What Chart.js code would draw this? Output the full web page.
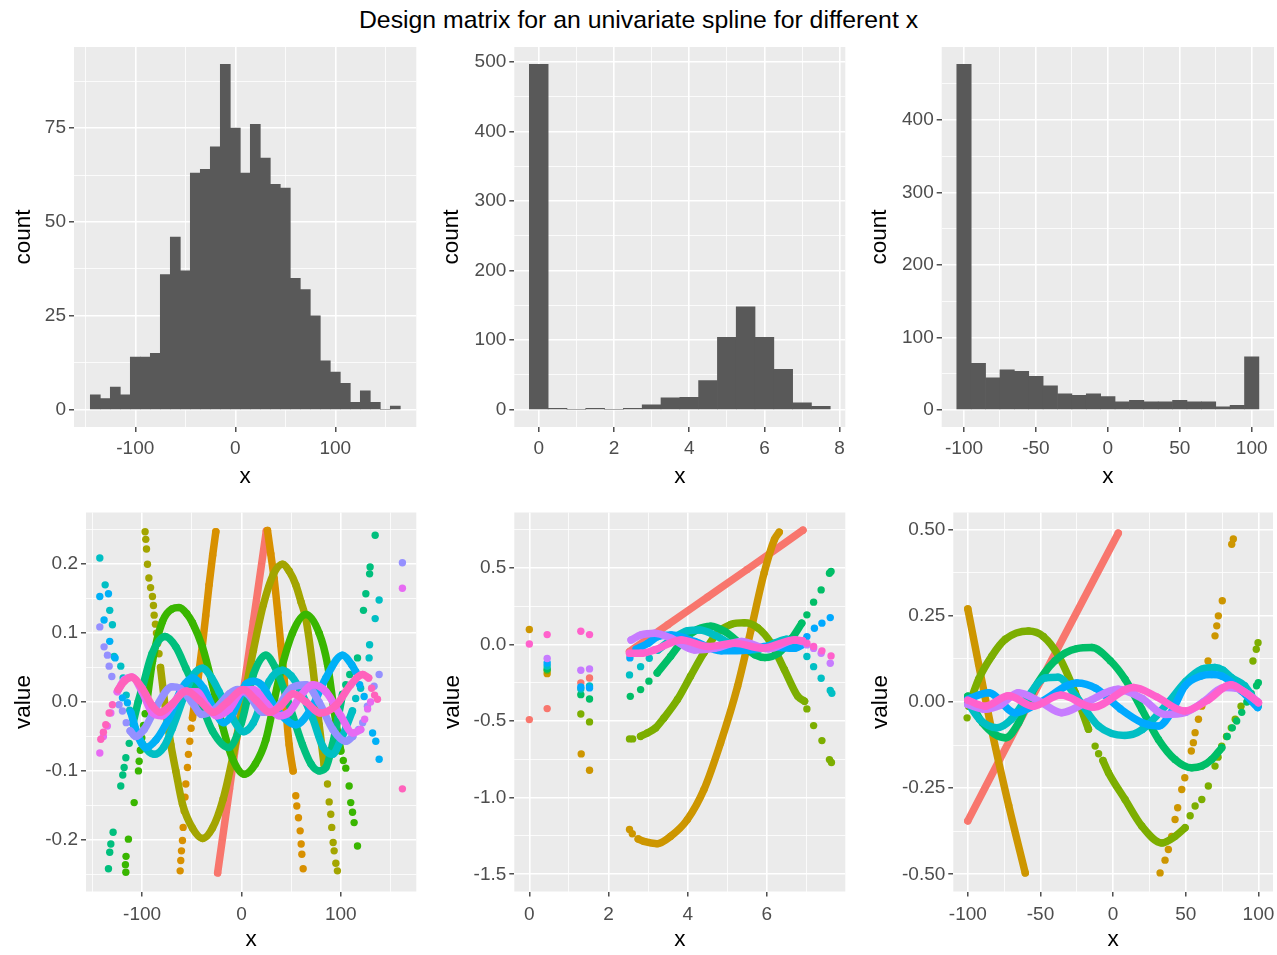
<!DOCTYPE html>
<html>
<head>
<meta charset="utf-8">
<script src="https://cdn.jsdelivr.net/npm/chart.js@4.4.1/dist/chart.umd.min.js"></script>
<style>
  body { margin: 0; background: #fff; width: 1277px; height: 955px; position: relative; overflow: hidden; }
  #title { position: absolute; left: 0; top: 5px; width: 1277px; text-align: center; line-height: 30px;
           font-family: "Liberation Sans", Arial, sans-serif; font-size: 24.8px; color: #000; }
  canvas { position: absolute; }
</style>
</head>
<body>
<div id="title">Design matrix for an univariate spline for different x</div>
<canvas id="c1"></canvas><canvas id="c2"></canvas><canvas id="c3"></canvas>
<canvas id="c4"></canvas><canvas id="c5"></canvas><canvas id="c6"></canvas>
<script>
// ---- histogram data (bin centres / counts) ----
const hist1X = [-140,-130,-120,-110,-100,-90,-80,-70,-60,-50,-40,-30,-20,-10,0,10,20,30,40,50,60,70,80,90,100,110,120,130,140,150,160];
const hist1Count = [4,3,6,4,14,14,15,36,46,37,63,64,70,92,75,63,76,67,60,59,35,32,25,13,10,7,2,5,2,0,1];
const hist2X = [0,0.5,1,1.5,2,2.5,3,3.5,4,4.5,5,5.5,6,6.5,7,7.5];
const hist2Count = [497,2,0,2,0,2,7,17,18,42,104,148,104,58,10,5];
const hist3X = [-100,-90,-80,-70,-60,-50,-40,-30,-20,-10,0,10,20,30,40,50,60,70,80,90,100];
const hist3Count = [477,64,44,55,53,46,33,22,20,22,18,11,13,11,11,13,11,11,4,6,73];

// ---- tick labels ----
const p1XTicks = [-100, 0, 100], p1XLabels = ['-100', '0', '100'], p1XMinor = [-150, -50, 50, 150];
const p1YTicks = [0, 25, 50, 75], p1YLabels = ['0', '25', '50', '75'], p1YMinor = [12.5, 37.5, 62.5, 87.5];
const p2XTicks = [0, 2, 4, 6, 8], p2XLabels = ['0', '2', '4', '6', '8'], p2XMinor = [1, 3, 5, 7];
const p2YTicks = [0, 100, 200, 300, 400, 500], p2YLabels = ['0', '100', '200', '300', '400', '500'], p2YMinor = [50, 150, 250, 350, 450];
const p3XTicks = [-100, -50, 0, 50, 100], p3XLabels = ['-100', '-50', '0', '50', '100'], p3XMinor = [-75, -25, 25, 75];
const p3YTicks = [0, 100, 200, 300, 400], p3YLabels = ['0', '100', '200', '300', '400'], p3YMinor = [50, 150, 250, 350, 450];
const p4XTicks = [-100, 0, 100], p4XLabels = ['-100', '0', '100'], p4XMinor = [-150, -50, 50, 150];
const p4YTicks = [-0.2, -0.1, 0, 0.1, 0.2], p4YLabels = ['-0.2', '-0.1', '0.0', '0.1', '0.2'], p4YMinor = [-0.25, -0.15, -0.05, 0.05, 0.15, 0.25];
const p5XTicks = [0, 2, 4, 6], p5XLabels = ['0', '2', '4', '6'], p5XMinor = [1, 3, 5, 7];
const p5YTicks = [-1.5, -1, -0.5, 0, 0.5], p5YLabels = ['-1.5', '-1.0', '-0.5', '0.0', '0.5'], p5YMinor = [-1.25, -0.75, -0.25, 0.25, 0.75];
const p6XTicks = [-100, -50, 0, 50, 100], p6XLabels = ['-100', '-50', '0', '50', '100'], p6XMinor = [-75, -25, 25, 75];
const p6YTicks = [-0.5, -0.25, 0, 0.25, 0.5], p6YLabels = ['-0.50', '-0.25', '0.00', '0.25', '0.50'], p6YMinor = [-0.375, -0.125, 0.125, 0.375];

// ---- design matrix columns (dots = isolated points, lines = dense runs) ----
const p4Red = { dots: [], lines: [[[-24,-0.248],[-12,-0.126],[0,-0.004],[12,0.117],[25,0.248]]] };
const p4Orange = {
  dots: [[-61.7,-0.245],[-61.1,-0.23],[-60.4,-0.216],[-59.4,-0.201],[-58.7,-0.182],[-57.7,-0.158],[-56.8,-0.138],[-56,-0.119],[-54.4,-0.095],[-53.4,-0.076],[-52,-0.057],[-50.7,-0.038],
         [54.7,-0.136],[55.7,-0.151],[57.4,-0.168],[59.1,-0.187],[60.1,-0.206],[60.8,-0.221],[62.1,-0.242]],
  lines: [[[-49.3,-0.023],[-44,0.03],[-39.3,0.083],[-36,0.125],[-32.6,0.17],[-29,0.213],[-25.8,0.247]],
          [[26.2,0.249],[29.5,0.215],[32.9,0.179],[36.5,0.13],[39.6,0.083],[42.9,0.035],[45,-0.013],[48,-0.062],[52,-0.1]]]
};
const p4Olive = {
  dots: [[-97,0.247],[-96.3,0.236],[-95.6,0.222],[-94.6,0.2],[-93.2,0.18],[-91.5,0.166],[-89.6,0.153],[-88.6,0.14],[-87.9,0.126],[-86.6,0.113],[-85.6,0.1],[-84.4,0.085],[-83,0.07],
         [86.6,-0.119],[88.3,-0.145],[89.9,-0.163],[90.9,-0.182],[92.3,-0.204],[93.3,-0.216],[95,-0.234],[96.6,-0.245]],
  lines: [[[-81.5,0.05],[-76.2,-0.013],[-71.1,-0.062],[-66.1,-0.1],[-59.4,-0.148],[-49.3,-0.183],[-39,-0.198],[-29.2,-0.183],[-18.5,-0.141],[-8,-0.075],[2,0],[12,0.075],[22,0.141],[32,0.185],[41.3,0.2],[48,0.19],[54.7,0.17],[60,0.145],[64.8,0.121],[71.5,0.054],[78.2,-0.033],[83.2,-0.091]]]
};
const p4Green = {
  dots: [[-116.4,-0.247],[-116.8,-0.236],[-116.2,-0.224],[-113.8,-0.199],[-108,-0.146],[-103.7,-0.1],[-103,-0.086],[-101.8,-0.07],[-100.3,-0.052],[-98.6,-0.034],[-97,-0.017],
         [102.5,-0.085],[105,-0.096],[108.4,-0.122],[110,-0.146],[111.8,-0.16],[113.4,-0.175],[116.8,-0.209]],
  lines: [[[-95,0.003],[-89.6,0.059],[-79.5,0.117],[-70,0.135],[-62.8,0.137],[-55,0.128],[-49.3,0.115],[-39.3,0.08],[-29.2,0.025],[-19.1,-0.035],[-9.1,-0.082],[3,-0.105],[14,-0.09],[24.5,-0.055],[37.9,0.035],[51.3,0.1],[64.8,0.127],[78.2,0.1],[86.6,0.055],[93.3,-0.013],[100,-0.071]]]
};
const p4Teal = {
  dots: [[-133.9,-0.242],[-132.6,-0.218],[-131.5,-0.206],[-129.2,-0.189],[-121.5,-0.122],[-119.5,-0.106],[-118.1,-0.095],[-116.4,-0.081],[-113,-0.06],
         [105,0.025],[109,0.04],[116.8,0.064],[122.8,0.133],[125.2,0.157],[129,0.186],[129.5,0.196],[134.6,0.242]],
  lines: [[[-109,-0.03],[-104,0],[-99,0.025],[-90,0.07],[-77,0.095],[-66,0.08],[-56,0.049],[-42.6,0.006],[-29.2,-0.042],[-13,-0.066],[0,-0.03],[12,0.04],[24.5,0.068],[34,0.05],[44.6,0.011],[61.4,-0.062],[70,-0.09],[78.2,-0.1],[85,-0.095],[91.6,-0.062],[97,-0.025],[101.7,0.011]]]
};
const p4Cyan = {
  dots: [[-142.6,0.209],[-137.2,0.17],[-132.6,0.133],[-129.9,0.112],[-128.2,0.066],[-121.5,0.052],[-119.1,0.035],[-116,0.01],[-112.5,-0.012],
         [115,0.005],[120,0.02],[128.5,0.064],[129,0.083],[134.6,0.121],[138.6,0.148]],
  lines: [[[-109.7,-0.03],[-100,-0.06],[-88,-0.076],[-78,-0.065],[-69.5,-0.038],[-56,0.015],[-48,0.04],[-39.3,0.049],[-30,0.035],[-22.5,0.015],[-9.1,-0.023],[2,-0.043],[12,-0.03],[27.9,0.03],[41.3,0.046],[50,0.038],[58,0.02],[71.5,-0.023],[82,-0.065],[91.6,-0.076],[100,-0.055],[105,-0.038],[111.7,-0.013]]]
};
const p4Blue = {
  dots: [[-142.6,0.153],[-138.3,0.119],[-133.9,0.157],[-132.6,0.088],[-127.2,0.064],[-119.8,0.006],[-114.8,-0.001],
         [119,0.025],[123.5,0.008],[132,-0.045],[135.2,-0.057],[138.6,-0.083]],
  lines: [[[-111.4,-0.015],[-104,-0.05],[-96.3,-0.066],[-86,-0.055],[-72.8,-0.023],[-60,0.02],[-49.3,0.035],[-38,0.02],[-28,-0.01],[-18,-0.03],[-8,-0.015],[4,0.025],[12,0.03],[20,0.025],[35,-0.01],[54.7,-0.033],[70,-0.01],[85,0.035],[101.7,0.068],[111,0.054],[115,0.044]]]
};
const p4Purple = {
  dots: [[-142.6,0.109],[-138.3,0.08],[-134.9,0.068],[-133.2,0.052],[-130.5,0.037],[-123.2,-0.004],[-119.8,-0.013],[-116,-0.03],
         [118,-0.04],[122,-0.03],[126.8,-0.006],[133.5,0.023],[138.6,0.04],[162,0.202]],
  lines: [[[-112,-0.042],[-106.4,-0.05],[-98,-0.04],[-85,-0.005],[-70,0.022],[-62,0.02],[-50,0],[-40,-0.018],[-28,-0.012],[-12,0.012],[-4,0.018],[6,0.012],[22,-0.015],[35,-0.01],[50,0.02],[64.8,0.025],[78,0],[92,-0.04],[105,-0.057],[112,-0.05]]]
};
const p4Violet = {
  dots: [[-142.6,-0.074],[-139,-0.05],[-135,-0.035],[-131.5,-0.016],[124,-0.025],[127,-0.01],[130,0],[162,0.165]],
  lines: [[[-125,0.015],[-118,0.032],[-110,0.036],[-100,0.015],[-90,-0.015],[-80,-0.02],[-70,-0.005],[-58,0.015],[-45,0.015],[-35,-0.005],[-25,-0.02],[-12,-0.01],[0,0.015],[12,0.018],[25,-0.002],[38,-0.02],[48,-0.015],[60,0.01],[72,0.025],[85,0.015],[100,-0.02],[112,-0.045],[120,-0.04]]]
};
const p4Pink = {
  dots: [[-141.6,-0.054],[-139,-0.044],[-136.6,-0.033],[-133.2,-0.016],[-129.9,-0.004],[131,0.02],[134,0.01],[136.9,0.004],[162,-0.126]],
  lines: [[[-124,0.018],[-118,0.03],[-110.7,0.036],[-100,0.02],[-90,-0.005],[-82,-0.015],[-70,-0.003],[-55.4,0.016],[-42,0.002],[-28.5,-0.015],[-14,0],[1.7,0.018],[15,0.002],[28.5,-0.015],[40,-0.005],[52,0.012],[65,0],[79,-0.016],[95,-0.005],[110,0.025],[122,0.04],[128,0.035]]]
};

const p5Red = { dots: [[0,-0.49],[0.45,-0.418],[1.3,-0.25],[1.52,-0.218]], lines: [[[2.53,-0.046],[3.5,0.13],[4.5,0.31],[5.5,0.49],[6.91,0.747]]] };
const p5Gold = {
  dots: [[0,0.098],[0.45,-0.19],[1.31,-0.714],[1.52,-0.821],[2.53,-1.208],[2.6,-1.235]],
  lines: [[[2.75,-1.27],[2.89,-1.285],[3.23,-1.3],[3.57,-1.252],[3.99,-1.143],[4.41,-0.947],[4.83,-0.642],[5.26,-0.272],[5.6,0.098],[5.93,0.468],[6.19,0.686],[6.31,0.734]]]
};
const p5Lime = {
  dots: [[0.45,-0.17],[1.3,-0.453],[1.52,-0.505],[2.53,-0.616],[2.61,-0.616],[7.01,-0.42],[7.18,-0.529],[7.39,-0.627],[7.58,-0.751],[7.63,-0.77]],
  lines: [[[2.81,-0.599],[2.98,-0.577],[3.19,-0.544],[3.4,-0.479],[3.74,-0.359],[4.07,-0.207],[4.41,-0.054],[4.75,0.076],[5.09,0.131],[5.43,0.142],[5.77,0.109],[6.1,0.011],[6.44,-0.163],[6.78,-0.338],[6.95,-0.37]]]
};
const p5Green = {
  dots: [[0.45,-0.16],[1.3,-0.327],[1.52,-0.355],[2.55,-0.338],[2.81,-0.294],[3.02,-0.239],[7.01,0.194],[7.18,0.277],[7.37,0.357],[7.58,0.466],[7.62,0.477]],
  lines: [[[3.23,-0.185],[3.57,-0.076],[3.9,0.033],[4.24,0.098],[4.58,0.12],[4.94,0.085],[5.36,-0.002],[5.7,-0.067],[5.95,-0.085],[6.29,-0.057],[6.63,0.041],[6.88,0.139]]]
};
const p5Cyan = {
  dots: [[0.45,-0.14],[1.3,-0.29],[1.52,-0.27],[2.53,-0.198],[2.81,-0.144],[3.03,-0.089],[7.01,-0.078],[7.18,-0.144],[7.37,-0.22],[7.6,-0.3],[7.64,-0.318]],
  lines: [[[3.25,-0.035],[3.58,0.03],[4,0.09],[4.3,0.095],[4.7,0.06],[5.1,0],[5.5,-0.035],[5.8,-0.03],[6.2,0.01],[6.5,0.035],[6.8,0]]]
};
const p5Blue = {
  dots: [[0.45,-0.12],[1.3,-0.277],[1.52,-0.283],[2.54,-0.087],[7.01,0.052],[7.2,0.107],[7.39,0.14],[7.6,0.176]],
  lines: [[[2.7,-0.03],[3,0.009],[3.25,0.052],[3.58,0.063],[4.18,0.02],[4.85,-0.041],[5.53,-0.035],[6.04,-0.01],[6.4,-0.02],[6.71,-0.024],[6.9,0]]]
};
const p5Purple = {
  dots: [[0.45,-0.091],[1.3,-0.168],[1.52,-0.159],[7.01,-0.002],[7.18,-0.025],[7.37,-0.057],[7.6,-0.122]],
  lines: [[[2.57,0.03],[2.82,0.063],[3.16,0.074],[3.58,0.041],[4.18,-0.035],[4.68,-0.024],[5.36,0.02],[6.04,-0.028],[6.71,0.03],[6.9,0.02]]]
};
const p5Pink = {
  dots: [[0,0.004],[0.45,0.065],[1.3,0.087],[1.52,0.065],[7.01,0.009],[7.18,-0.013],[7.39,-0.041],[7.62,-0.074]],
  lines: [[[2.53,-0.057],[2.82,-0.057],[3.16,-0.035],[3.84,0.03],[4.51,-0.013],[5.19,0.009],[5.87,-0.024],[6.71,0.03],[6.9,0.025]]]
};

const p6Red = { dots: [], lines: [[[-100,-0.345],[-50,0.06],[3.5,0.49]]] };
const p6Gold = {
  dots: [[32.3,-0.496],[35.7,-0.459],[38,-0.428],[40.3,-0.39],[42.6,-0.341],[44.4,-0.307],[47.2,-0.254],[49.3,-0.22],[53.8,-0.142],[55.2,-0.118],[56.4,-0.089],[58.7,-0.05],[61,-0.012],
         [65.3,0.119],[70.1,0.192],[71.3,0.221],[72.4,0.25],[75.1,0.294],[81.6,0.458],[82.7,0.473]],
  lines: [[[-100,0.27],[-92.6,0.11],[-83.4,-0.085],[-71.9,-0.3],[-60.5,-0.496]]]
};
const p6Lime = {
  dots: [[-100.5,-0.046],[-12.4,-0.128],[-10,-0.15],[53,-0.33],[56.4,-0.302],[61,-0.283],[65.5,-0.244],[70.1,-0.186],[72.2,-0.16],[74.7,-0.128],[78,-0.1],[81.3,-0.075],[84,-0.05],[88,-0.012],[91,0.03],[96.2,0.119],[98.5,0.153],[99.7,0.172]],
  lines: [[[-99.4,-0.012],[-92.6,0.066],[-83.4,0.134],[-74.2,0.182],[-58.2,0.206],[-48,0.19],[-37.6,0.134],[-26.1,0.027],[-17,-0.079]],
          [[-7,-0.17],[-3.2,-0.205],[8.2,-0.283],[19.7,-0.36],[33.4,-0.409],[42.6,-0.39],[49.5,-0.365]]]
};
const p6Green = {
  dots: [[78.5,-0.1],[82,-0.075],[85,-0.055],[88.5,-0.03],[92,0],[95,0.025],[98.7,0.047],[99.9,0.056]],
  lines: [[[-100,0.017],[-90,-0.06],[-74.2,-0.104],[-65,-0.06],[-55.9,0.027],[-40,0.12],[-25,0.155],[-14.7,0.158],[-2,0.12],[8.2,0.066],[19.7,-0.021],[31.2,-0.109],[42.6,-0.167],[54.1,-0.191],[61,-0.186],[67.8,-0.167],[74.7,-0.133]]]
};
const p6Cyan = {
  dots: [],
  lines: [[[-100,-0.002],[-92,-0.05],[-80,-0.075],[-70,-0.05],[-58,0.02],[-46.7,0.07],[-38,0.072],[-26.1,0.02],[-10,-0.07],[8,-0.097],[20,-0.08],[37.8,-0.002],[50,0.06],[61,0.095],[70,0.1],[75.6,0.092],[81.3,0.071],[90.5,0.047],[99.7,-0.012]]]
};
const p6Blue = {
  dots: [],
  lines: [[[-100,0.008],[-85.7,0.027],[-67.4,-0.031],[-50,0],[-25,0.055],[-12,0.04],[5,-0.02],[20,-0.06],[31.2,-0.07],[40,-0.03],[49.5,0.047],[60,0.075],[67.8,0.08],[75,0.075],[88.4,0.032],[99.4,-0.016]]]
};
const p6Purple = {
  dots: [],
  lines: [[[-100,-0.007],[-88.2,-0.021],[-78,-0.01],[-65.3,0.027],[-50,0],[-35.5,-0.031],[-18,0],[3.4,0.037],[20,0.01],[35.5,-0.036],[50,-0.03],[62,0],[76.7,0.042],[85,0.04],[92,0.025],[99.7,0]]]
};
const p6Pink = {
  dots: [],
  lines: [[[-100,0.005],[-88,-0.012],[-72,0.018],[-55,-0.012],[-36,0.02],[-14,-0.015],[14,0.042],[30,0.015],[49,-0.026],[65,0.005],[81,0.05],[90,0.03],[100,-0.002]]]
};

const pal10 = ['#F8766D', '#D89000', '#A3A500', '#39B600', '#00BF7D', '#00BFC4', '#00B0F6', '#9590FF', '#E76BF3', '#FF62BC'];
const pal8 = ['#F8766D', '#CD9600', '#7CAE00', '#00BE67', '#00BFC4', '#00A9FF', '#C77CFF', '#FF61CC'];

Chart.defaults.font.family = '"Liberation Sans", Arial, sans-serif';
Chart.defaults.animation = false;
Chart.defaults.plugins.legend.display = false;
Chart.defaults.plugins.tooltip.enabled = false;

// grey ggplot panel behind the grid
const panelBg = {
  id: 'panelBg',
  beforeDraw(chart) {
    const { ctx, chartArea: a } = chart;
    ctx.save();
    ctx.fillStyle = '#EBEBEB';
    ctx.fillRect(a.left, a.top, a.right - a.left, a.bottom - a.top);
    ctx.restore();
  }
};

function histData(xs, counts) {
  return [{
    data: xs.map((x, i) => ({ x: x, y: counts[i] })),
    backgroundColor: '#595959', borderWidth: 0,
    barPercentage: 1, categoryPercentage: 1, grouped: false
  }];
}

function seriesPoints(s) {
  const out = [];
  s.dots.forEach(p => { out.push({ x: p[0], y: p[1] }); out.push({ x: p[0], y: null }); });
  s.lines.forEach(run => {
    run.forEach(p => out.push({ x: p[0], y: p[1] }));
    out.push({ x: run[run.length - 1][0], y: null });
  });
  return out;
}

function scatterData(list, pal) {
  return list.map((s, i) => ({
    data: seriesPoints(s),
    order: list.length - i,
    showLine: true, spanGaps: false,
    borderColor: pal[i], backgroundColor: pal[i],
    borderWidth: 7.5, borderCapStyle: 'round', borderJoinStyle: 'round',
    cubicInterpolationMode: 'monotone',
    pointRadius: 3.7, pointBorderWidth: 0, pointBackgroundColor: pal[i]
  }));
}

function axis(which, spec, size, tickPad, title, titlePad) {
  const all = spec.major.concat(spec.minor).sort((a, b) => a - b);
  const isMajor = v => spec.major.indexOf(v) >= 0;
  return {
    type: 'linear', min: spec.min, max: spec.max, offset: false,
    afterBuildTicks: s => { s.ticks = all.map(v => ({ value: v })); },
    afterFit: s => {
      if (which === 'x') { s.height = size; s.paddingLeft = 0; s.paddingRight = 0; }
      else { s.width = size; s.paddingTop = 0; s.paddingBottom = 0; }
    },
    grid: {
      offset: false, color: '#FFFFFF',
      lineWidth: c => isMajor(c.tick.value) ? 1.6 : 0.8,
      drawTicks: true, tickLength: 5, tickWidth: 1.3,
      tickColor: c => isMajor(c.tick.value) ? '#333333' : 'rgba(0,0,0,0)'
    },
    border: { display: false },
    ticks: {
      autoSkip: false, maxRotation: 0, minRotation: 0, padding: tickPad,
      color: '#4D4D4D', font: { size: 19 },
      callback: v => { const i = spec.major.indexOf(v); return i < 0 ? '' : spec.labels[i]; }
    },
    title: { display: true, text: title, color: '#000000', font: { size: 22.5 },
             padding: which === 'x' ? { top: 0, bottom: titlePad } : { top: titlePad, bottom: 0 } }
  };
}

const rowTop = [38, 500], rowBottom = [500, 955];
const colLeft = [0, 430, 860], colRight = [430, 860, 1277];

const panels = [
  { id: 'c1', r: 0, c: 0, plot: [74, 47, 416.3, 427], type: 'bar', yTitle: 'count', yTitlePad: 10.3,
    x: { min: -161.3, max: 181, major: p1XTicks, labels: p1XLabels, minor: p1XMinor },
    y: { min: -4.6, max: 96.6, major: p1YTicks, labels: p1YLabels, minor: p1YMinor },
    datasets: histData(hist1X, hist1Count) },
  { id: 'c2', r: 0, c: 1, plot: [514.3, 47, 845.3, 427], type: 'bar', yTitle: 'count', yTitlePad: 7.8,
    x: { min: -0.65, max: 8.15, major: p2XTicks, labels: p2XLabels, minor: p2XMinor },
    y: { min: -24.85, max: 521.85, major: p2YTicks, labels: p2YLabels, minor: p2YMinor },
    datasets: histData(hist2X, hist2Count) },
  { id: 'c3', r: 0, c: 2, plot: [941.7, 47, 1274, 427], type: 'bar', yTitle: 'count', yTitlePad: 5.8,
    x: { min: -115.5, max: 115.5, major: p3XTicks, labels: p3XLabels, minor: p3XMinor },
    y: { min: -23.85, max: 500.85, major: p3YTicks, labels: p3YLabels, minor: p3YMinor },
    datasets: histData(hist3X, hist3Count) },
  { id: 'c4', r: 1, c: 0, plot: [86, 512.5, 416.3, 891.5], type: 'scatter', yTitle: 'value', yTitlePad: 9.8,
    x: { min: -156.5, max: 176, major: p4XTicks, labels: p4XLabels, minor: p4XMinor },
    y: { min: -0.275, max: 0.275, major: p4YTicks, labels: p4YLabels, minor: p4YMinor },
    datasets: scatterData([p4Red, p4Orange, p4Olive, p4Green, p4Teal, p4Cyan, p4Blue, p4Purple, p4Violet, p4Pink], pal10) },
  { id: 'c5', r: 1, c: 1, plot: [514.3, 512.5, 845.3, 891.5], type: 'scatter', yTitle: 'value', yTitlePad: 9,
    x: { min: -0.38, max: 7.98, major: p5XTicks, labels: p5XLabels, minor: p5XMinor },
    y: { min: -1.6125, max: 0.8625, major: p5YTicks, labels: p5YLabels, minor: p5YMinor },
    datasets: scatterData([p5Red, p5Gold, p5Lime, p5Green, p5Cyan, p5Blue, p5Purple, p5Pink], pal8) },
  { id: 'c6', r: 1, c: 2, plot: [953.3, 512.5, 1274, 891.5], type: 'scatter', yTitle: 'value', yTitlePad: 7,
    x: { min: -110, max: 110, major: p6XTicks, labels: p6XLabels, minor: p6XMinor },
    y: { min: -0.55, max: 0.55, major: p6YTicks, labels: p6YLabels, minor: p6YMinor },
    datasets: scatterData([p6Red, p6Gold, p6Lime, p6Green, p6Cyan, p6Blue, p6Purple, p6Pink], pal8) }
];

panels.forEach(p => {
  const left = colLeft[p.c], top = rowTop[p.r];
  const w = colRight[p.c] - left, h = rowBottom[p.r] - top;
  const cv = document.getElementById(p.id);
  cv.width = w; cv.height = h;
  cv.style.left = left + 'px'; cv.style.top = top + 'px';
  cv.style.width = w + 'px'; cv.style.height = h + 'px';
  const xTickPad = p.r === 0 ? 5.2 : 7.3;
  const xTitlePad = p.r === 0 ? 10.2 : 1.8;
  new Chart(cv, {
    type: p.type,
    data: { datasets: p.datasets },
    options: {
      responsive: false, devicePixelRatio: 1,
      layout: { padding: { left: 0, bottom: 0, top: p.plot[1] - top, right: colRight[p.c] - p.plot[2] } },
      scales: {
        x: axis('x', p.x, rowBottom[p.r] - p.plot[3], xTickPad, 'x', xTitlePad),
        y: axis('y', p.y, p.plot[0] - left, 3, p.yTitle, p.yTitlePad)
      }
    },
    plugins: [panelBg]
  });
});
</script>
</body>
</html>
